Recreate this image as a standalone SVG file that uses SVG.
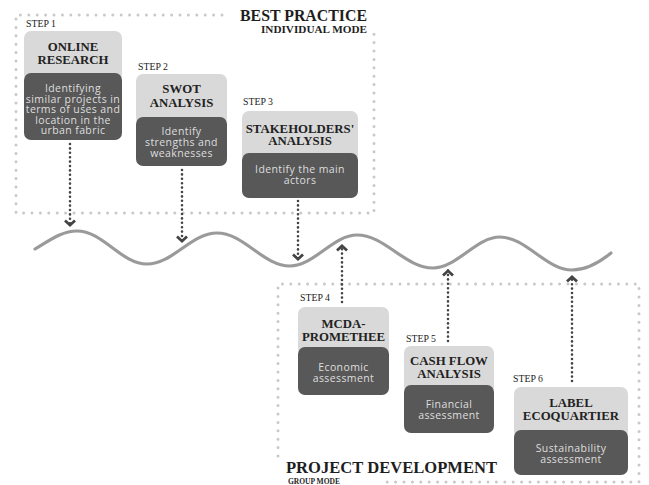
<svg xmlns="http://www.w3.org/2000/svg" width="649" height="485" viewBox="0 0 649 485">
<defs>
<style>
.frame{fill:none;stroke:#c9c9c9;stroke-width:3;stroke-linecap:round;stroke-dasharray:0 8.4}
.conn{fill:none;stroke:#444;stroke-width:2.6;stroke-linecap:round;stroke-dasharray:0 4.4}
.wave{fill:none;stroke:#9a9a9a;stroke-width:3.2;stroke-linecap:round}
.light{fill:#d9d9d9}
.dark{fill:#585858}
.title{font-family:"Liberation Serif","DejaVu Serif",serif;font-weight:bold;fill:#1e1e1e}
.step{font-family:"Liberation Serif","DejaVu Serif",serif;font-size:9.8px;fill:#222}
.head{font-family:"Liberation Serif","DejaVu Serif",serif;font-weight:bold;font-size:12.8px;fill:#222;text-anchor:middle}
.body{font-family:"Open Sans","Noto Sans",sans-serif;font-size:10.5px;letter-spacing:0.4px;fill:#dedede;text-anchor:middle}
</style>
<marker id="chev" markerUnits="userSpaceOnUse" markerWidth="14" markerHeight="14" viewBox="-8 -7 10 14" refX="0" refY="0" orient="auto">
<path d="M-5.5,-5 L-0.8,0 L-5.5,5" fill="none" stroke="#444" stroke-width="2.8" stroke-linejoin="miter" stroke-linecap="butt"/>
</marker>
</defs>

<g id="frames">
<path class="frame" d="M222,15 L16,15 L16,213 L374,213 L374,26"/>
<path class="frame" d="M278,456 L278,284 L639,284 L639,482 L380,482"/>
</g>

<g id="titles">
<text class="title" x="240" y="21" font-size="16" textLength="127" lengthAdjust="spacingAndGlyphs">BEST PRACTICE</text>
<text class="title" x="261" y="33" font-size="10.5" textLength="106" lengthAdjust="spacingAndGlyphs">INDIVIDUAL MODE</text>
<text class="title" x="286" y="473" font-size="16.5" textLength="211" lengthAdjust="spacingAndGlyphs">PROJECT DEVELOPMENT</text>
<text class="title" x="288" y="484" font-size="8" textLength="52" lengthAdjust="spacingAndGlyphs">GROUP MODE</text>
</g>

<g id="wave">
<path class="wave" d="M35,249 C50,240 62,231 77,231 C103,231 121,264 147,264 C173,264 191,233 217,233 C244,233 263,266 290,266 C314,266 333,235 357,235 C385,235 405,268 433,268 C457,268 476,237 500,237 C526,237 546,270 572,270 C587,270 600,262 611,253"/>
</g>

<g id="connectors">
<path class="conn" d="M70,144 L70,226" marker-end="url(#chev)"/>
<path class="conn" d="M182,170 L182,242" marker-end="url(#chev)"/>
<path class="conn" d="M298,201 L298,260" marker-end="url(#chev)"/>
<path class="conn" d="M342,302 L342,245" marker-end="url(#chev)"/>
<path class="conn" d="M448,341 L448,270" marker-end="url(#chev)"/>
<path class="conn" d="M572,381 L572,276" marker-end="url(#chev)"/>
</g>

<g id="step1">
<text class="step" x="26" y="27">STEP 1</text>
<rect class="light" x="24" y="31" width="98" height="50" rx="7"/>
<rect class="dark" x="24" y="73" width="98" height="67" rx="7"/>
<text class="head" x="73" y="51">ONLINE</text>
<text class="head" x="73" y="64">RESEARCH</text>
<text class="body" x="73" y="92">Identifying</text>
<text class="body" x="73" y="102.5">similar projects in</text>
<text class="body" x="73" y="113">terms of uses and</text>
<text class="body" x="73" y="123.5">location in the</text>
<text class="body" x="73" y="134">urban fabric</text>
</g>

<g id="step2">
<text class="step" x="138" y="70">STEP 2</text>
<rect class="light" x="136" y="74" width="91" height="51" rx="7"/>
<rect class="dark" x="136" y="117" width="91" height="49" rx="7"/>
<text class="head" x="181.5" y="93">SWOT</text>
<text class="head" x="181.5" y="107">ANALYSIS</text>
<text class="body" x="181.5" y="135">Identify</text>
<text class="body" x="181.5" y="146">strengths and</text>
<text class="body" x="181.5" y="156.5">weaknesses</text>
</g>

<g id="step3">
<text class="step" x="243" y="105">STEP 3</text>
<rect class="light" x="242" y="111" width="116" height="50" rx="7"/>
<rect class="dark" x="242" y="153" width="116" height="45" rx="7"/>
<text class="head" x="300" y="133">STAKEHOLDERS'</text>
<text class="head" x="300" y="145">ANALYSIS</text>
<text class="body" x="300" y="173">Identify the main</text>
<text class="body" x="300" y="184">actors</text>
</g>

<g id="step4">
<text class="step" x="300" y="301">STEP 4</text>
<rect class="light" x="298" y="307" width="91" height="48" rx="7"/>
<rect class="dark" x="298" y="347" width="91" height="48" rx="7"/>
<text class="head" x="343.5" y="328">MCDA-</text>
<text class="head" x="343.5" y="341">PROMETHEE</text>
<text class="body" x="343.5" y="371">Economic</text>
<text class="body" x="343.5" y="382">assessment</text>
</g>

<g id="step5">
<text class="step" x="406" y="342">STEP 5</text>
<rect class="light" x="404" y="346" width="90" height="47" rx="7"/>
<rect class="dark" x="404" y="385" width="90" height="48" rx="7"/>
<text class="head" x="449" y="365">CASH FLOW</text>
<text class="head" x="449" y="378">ANALYSIS</text>
<text class="body" x="449" y="408">Financial</text>
<text class="body" x="449" y="419">assessment</text>
</g>

<g id="step6">
<text class="step" x="513" y="382">STEP 6</text>
<rect class="light" x="514" y="387" width="114" height="51" rx="7"/>
<rect class="dark" x="514" y="430" width="114" height="45" rx="7"/>
<text class="head" x="571" y="407">LABEL</text>
<text class="head" x="571" y="420">ECOQUARTIER</text>
<text class="body" x="571" y="452">Sustainability</text>
<text class="body" x="571" y="463">assessment</text>
</g>
</svg>
